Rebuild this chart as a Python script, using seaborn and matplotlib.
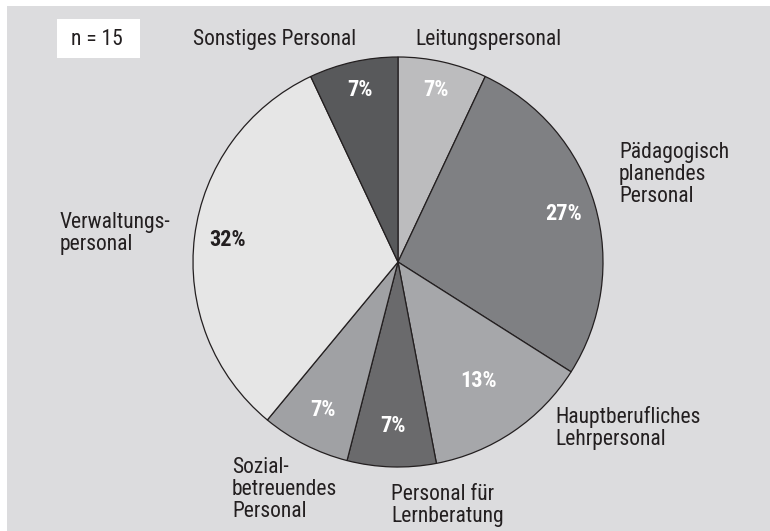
import numpy as np
import matplotlib
matplotlib.use("Agg")
import matplotlib.pyplot as plt
import seaborn as sns
from matplotlib.patches import Rectangle

# ---- data ----
categories = ["Leitungspersonal", "Pädagogisch\nplanendes\nPersonal",
              "Hauptberufliches\nLehrpersonal", "Personal für\nLernberatung",
              "Sozial-\nbetreuendes\nPersonal", "Verwaltungs-\npersonal",
              "Sonstiges Personal"]
percent = [7, 27, 13, 7, 7, 32, 7]
n_label = "n = 15"

# ---- style ----
sns.set_theme(style="white")
plt.rcParams["font.family"] = ["Roboto Condensed", "Liberation Sans Narrow", "Roboto", "DejaVu Sans"]

colors = ["#bcbcbe", "#7f8083", "#a6a7aa", "#6a6a6c", "#a0a1a4", "#e6e6e6", "#58595b"]
pct_colors = ["white", "white", "white", "white", "white", "#231f20", "white"]
pct_dist = [0.86, 0.84, 0.70, 0.80, 0.81, 0.84, 0.86]
txt_color = "#231f20"
FS = 15.5
PFS = 16

W, H = 770, 531
fig = plt.figure(figsize=(W / 100, H / 100), dpi=100)
fig.patch.set_facecolor("white")
fig.add_artist(Rectangle((7 / W, 0), 1 - 7 / W, 1 - 6 / H, transform=fig.transFigure,
                         facecolor="#dcdcde", edgecolor="none", zorder=0))

cx, cy, r = 398, 262, 205
ax = fig.add_axes([(cx - r) / W, (H - cy - r) / H, 2 * r / W, 2 * r / H])
ax.set_facecolor("none")
wedges, _ = ax.pie(percent, colors=colors, startangle=90, counterclock=False,
                   radius=1.0, wedgeprops=dict(edgecolor="#231f20", linewidth=0.9))
ax.set_xlim(-1, 1)
ax.set_ylim(-1, 1)
ax.set_aspect("equal")
ax.axis("off")

for w, p, c, d in zip(wedges, percent, pct_colors, pct_dist):
    ang = np.deg2rad((w.theta1 + w.theta2) / 2)
    ax.text(d * np.cos(ang), d * np.sin(ang), f"{p}%", ha="center", va="center",
            color=c, fontsize=PFS, fontweight="bold")

# category labels (left x, first-line baseline y in pixels)
label_pos = [(415, 45), (619, 158), (555, 423), (391, 500), (232, 473), (60, 228), (193, 45)]
LINE = 22
for lab, (x, y) in zip(categories, label_pos):
    for i, line in enumerate(lab.split("\n")):
        fig.text(x / W, 1 - (y + i * LINE) / H, line, ha="left", va="baseline",
                 color=txt_color, fontsize=FS)

# n box
fig.add_artist(Rectangle((57 / W, 1 - 58 / H), 83 / W, 39 / H, transform=fig.transFigure,
                         facecolor="white", edgecolor="none", zorder=1))
fig.text(97 / W, 1 - 45 / H, n_label, ha="center", va="baseline", color=txt_color,
         fontsize=FS, zorder=2)

fig.savefig("out.png", dpi=100)
